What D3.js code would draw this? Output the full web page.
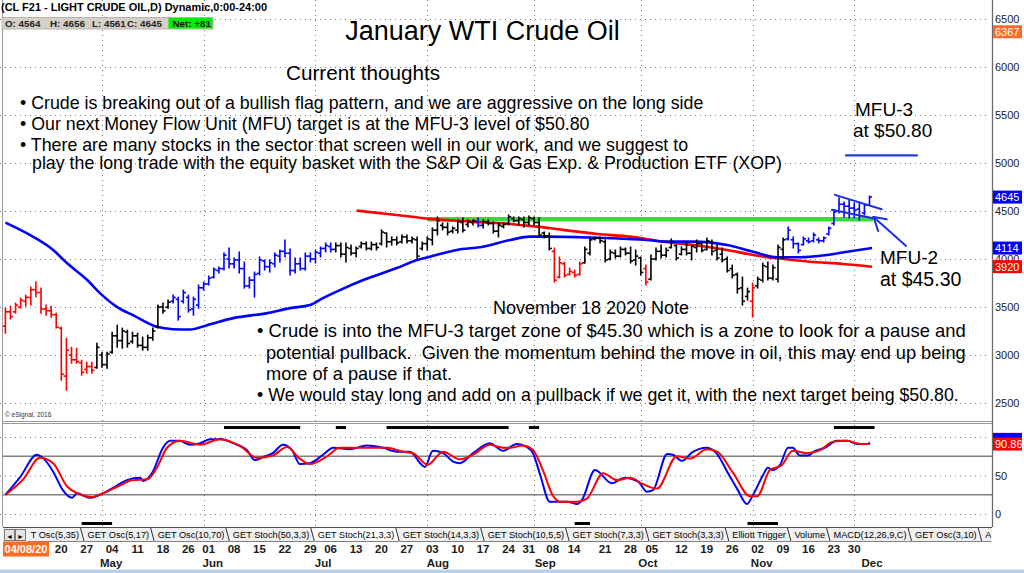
<!DOCTYPE html>
<html><head><meta charset="utf-8">
<script src="https://cdn.jsdelivr.net/npm/d3@7/dist/d3.min.js"></script>
<style>
html,body{margin:0;padding:0;background:#fff;overflow:hidden}
svg{display:block;font-family:"Liberation Sans",Arial,Helvetica,sans-serif}
</style></head><body>
<svg id="chart" width="1024" height="573"></svg>
<script>
// ---------------- DATA ----------------
const priceTicks = [2500,3000,3500,4000,4500,5000,5500,6000,6500];
const oscTicks = [0,50,100];
// daily OHLC, Jan 2021 WTI (CL F21), 03 Apr 2020 .. 04 Dec 2020 (index 0..170)
const hi = [3488,3509,3541,3593,3624,3708,3760,3697,3520,3509,
3436,3290,3175,3081,3071,2946,2925,2925,3123,3029,
3029,3238,3311,3280,3259,3238,3227,3186,3207,3280,
3520,3541,3572,3624,3603,3676,3624,3603,3729,3760,
3823,3906,3916,4063,4115,4010,4073,3969,3812,3864,
4021,3990,3990,4063,4094,4198,4104,4010,4010,4063,
4063,4094,4125,4167,4167,4167,4167,4167,4146,4125,
4177,4177,4177,4167,4303,4271,4230,4230,4251,4251,
4230,4230,4177,4230,4324,4438,4376,4376,4334,4407,
4428,4407,4407,4428,4407,4407,4386,4376,4376,4459,
4438,4438,4438,4449,4438,4428,4282,4271,4115,4021,
3969,3906,3885,3969,4125,4230,4230,4230,4198,4094,
4094,4125,4115,4125,4094,4021,3937,4042,4115,4146,
4115,4209,4146,4125,4177,4146,4198,4177,4219,4198,
4146,4115,4021,3937,3854,3812,3697,3749,3812,3958,
3969,3937,4146,4219,4334,4230,4167,4230,4219,4271,
4219,4230,4334,4512,4637,4595,4616,4585,4585,4566,
4656];
const lo = [3227,3374,3436,3488,3509,3520,3603,3436,3415,3394,
3280,2737,2632,2914,2914,2789,2810,2810,2862,2873,
2862,3019,3081,3071,3081,3123,3081,3050,3050,3154,
3280,3436,3488,3541,3363,3541,3447,3415,3488,3676,
3729,3802,3854,3885,3906,3906,3854,3697,3697,3603,
3833,3885,3864,3916,3969,4021,3833,3854,3885,3885,
3969,3958,4021,4073,4073,4073,4021,3969,4042,4021,
4115,4094,4094,4094,4146,4125,4146,4146,4167,4167,
4167,3990,4094,4094,4146,4251,4303,4251,4271,4271,
4282,4334,4355,4334,4324,4355,4271,4230,4324,4355,
4386,4355,4334,4355,4355,4230,4219,4094,3760,3802,
3812,3833,3812,3833,3958,4042,4198,4167,3969,3990,
4010,4021,4042,3958,3937,3833,3729,3781,3990,4010,
4021,4115,3990,4042,4042,3990,4073,4073,4094,4042,
3990,3969,3864,3802,3645,3520,3572,3394,3697,3760,
3781,3781,3760,4010,4198,4115,4063,4146,4167,4177,
4167,4177,4251,4355,4480,4438,4428,4428,4407,4459,
4561];
const op = [3300,3450,3450,3500,3560,3600,3680,3650,3480,3460,
3420,3280,2780,3000,2950,2920,2850,2880,2870,3000,
2900,3030,3200,3150,3240,3140,3200,3100,3080,3180,
3290,3500,3500,3560,3580,3560,3600,3480,3520,3700,
3740,3810,3880,3900,4000,3950,3990,3900,3720,3780,
3850,3980,3920,3950,4030,4080,4060,3880,3950,3900,
4030,4000,4060,4110,4130,4100,4140,4050,4110,4060,
4130,4160,4110,4150,4160,4270,4180,4200,4180,4230,
4190,4200,4110,4160,4200,4300,4350,4330,4290,4300,
4380,4360,4380,4390,4350,4380,4370,4290,4340,4370,
4420,4400,4410,4380,4420,4380,4270,4240,4080,3810,
3950,3840,3860,3840,3960,4060,4210,4220,4180,4000,
4060,4030,4100,4060,3990,4010,3900,3790,4000,4080,
4040,4120,4140,4050,4100,4060,4120,4160,4100,4180,
4090,4050,4000,3900,3840,3700,3610,3560,3720,3780,
3920,3800,3790,4100,4210,4200,4160,4150,4190,4190,
4200,4190,4260,4370,4500,4570,4550,4530,4520,4480,
4564];
const cl = [3450,3400,3520,3570,3600,3680,3650,3480,3460,3420,
3290,2800,3050,2950,2930,2820,2880,2840,3080,2900,
3010,3200,3150,3250,3120,3200,3100,3080,3180,3250,
3500,3460,3550,3600,3400,3650,3470,3580,3700,3740,
3800,3890,3900,4040,3950,3990,3900,3720,3780,3840,
3990,3920,3960,4040,4080,4060,3880,3950,3900,4030,
4000,4070,4110,4140,4100,4140,4050,4120,4060,4110,
4160,4110,4150,4120,4280,4180,4200,4170,4230,4190,
4210,4030,4160,4210,4300,4400,4330,4280,4320,4390,
4300,4390,4400,4350,4390,4370,4290,4350,4360,4440,
4400,4420,4380,4430,4380,4250,4240,4110,3780,3960,
3830,3870,3830,3950,4100,4200,4220,4190,3990,4070,
4030,4100,4060,3980,4030,3860,3760,4000,4080,4040,
4090,4180,4010,4100,4060,4130,4160,4090,4190,4080,
4010,3990,3880,3830,3690,3560,3660,3700,3790,3930,
3800,3910,4120,4200,4300,4160,4090,4210,4180,4250,
4190,4220,4320,4490,4570,4550,4530,4510,4450,4564,
4645];
// bar colouring runs [from, to, state]
const trendRuns = [[0,17,"down"],[18,32,"flat"],[33,64,"up"],[65,92,"flat"],[93,93,"up"],[94,107,"flat"],
  [108,113,"down"],[114,125,"flat"],[126,126,"down"],[127,146,"flat"],[147,147,"down"],[148,153,"flat"],[154,170,"up"]];
// moving averages [barIndex, price]
const blueMA = [[0,4379],[5.4,4233],[9.4,4094],[12.1,3958],[16.1,3781],[18.6,3645],[22,3499],[25.1,3415],[29.8,3293],
  [33,3269],[36.3,3266],[39.7,3311],[44.8,3384],[51.5,3436],[56,3488],[59.9,3520],[62.5,3593],[65.8,3676],[70.4,3781],
  [77,3906],[81,3990],[83.5,4024],[88.8,4094],[93.9,4128],[99.3,4198],[103.2,4233],[106.5,4233],[113,4227],[119.5,4216],
  [126.2,4198],[130.2,4181],[135.3,4181],[142,4146],[147.1,4076],[151.8,4018],[156.3,4018],[161.6,4042],[165.6,4076],[170.5,4114]];
const redMA = [[69.1,4504],[77,4459],[83.5,4418],[91.4,4389],[99.3,4365],[104.6,4337],[109.7,4303],[116.4,4261],[122.9,4233],
  [129.4,4181],[135.3,4146],[142,4094],[147.1,4042],[151.8,4007],[158.3,3972],[164.8,3948],[170.5,3920]];
// stochastic %K (blue) and %D (red) [barIndex, value]
const stochK = [[0,25],[2.9,48],[6.2,77],[7.2,74],[9.4,55],[11.3,31],[13.1,21],[14.1,27],[16.6,21],[18.6,25],[21.2,34],[23.9,44],
  [26.5,47],[27.1,43],[29,55],[31,86],[32.4,95],[34.3,95],[36.3,90],[38.3,92],[40.3,97],[42.6,97],[44.8,92],[47.5,83],[49.1,70],
  [50.7,74],[52.6,79],[54.6,90],[56.4,83],[57.9,65],[59.9,66],[62.5,77],[64.5,86],[67.8,84],[71.1,89],[74.3,86],[77,81],[79.6,81],
  [81.6,66],[82.5,61],[84.1,82],[86.1,79],[88.1,68],[89.4,66],[92,79],[95.3,92],[97.9,82],[100.6,91],[102.6,87],[103.8,79],
  [105.2,51],[107.1,16],[110.5,16],[112.5,13],[113.4,18],[116,57],[119.3,40],[121.9,47],[124.5,42],[126.2,29],[127.4,31],
  [130.2,78],[131.3,77],[133.1,69],[135.1,80],[138,86],[140,78],[142,55],[144.1,31],[145.9,13],[147.1,25],[149.1,51],[150,60],
  [151,57],[152.4,64],[154,86],[154.9,86],[156.3,76],[157.9,76],[159.3,82],[161.2,86],[163.6,95],[165.6,95],[167.6,91],[169.6,91],[170.1,93]];
const stochD = [[0,25],[3.5,45],[6.8,73],[9.4,66],[12.1,36],[14.1,27],[17.2,22],[19.2,27],[22.5,37],[25.1,44],[27.9,45],[29.8,60],
  [31.8,86],[34.3,95],[38.3,90],[42.2,97],[46.2,88],[49.5,73],[52.6,76],[55.4,87],[57.9,72],[59.9,65],[63.3,75],[65.8,86],[71.1,86],
  [75.1,86],[78.2,81],[80.2,79],[83.1,64],[86.1,81],[89.4,71],[92,77],[95.3,90],[97.9,86],[99.3,86],[101.8,89],[103.8,83],[105.8,56],
  [107.7,24],[109.1,16],[112.5,16],[114.4,20],[117.6,53],[120.3,44],[122.9,47],[125.4,39],[128.2,33],[132.1,75],[134.7,72],[138,84],
  [140,81],[143.2,53],[146.5,23],[147.9,23],[150.4,57],[152.8,64],[154.9,82],[157.7,79],[160.3,83],[162.8,94],[165.6,95],[168.1,91],[170.1,90.86]];
const obZones = [[43,58],[65,67],[75,99],[103,105],[163,171]];
const osZones = [[15,21],[112,115],[146,152]];
const mfu2Level = [4415, 83.1, 170.7];   // value, from index, to index
const mfu3Level = [5080, 165.2, 179.5];
const flagLines = [[[163.2,4668],[172.4,4519]],[[162.6,4512],[170.7,4425]],
  [[177.2,4136],[170.8,4438]],[[170.8,4438],[173.4,4414]],[[170.8,4438],[171.7,4292]]];
const monthStarts = [19,39,61,83,104,125,147,167];
const dayTicks = [["20",10],["27",15],["04",20],["11",25],["18",30],["26",35],["01",39],["08",44],["15",49],["22",54],["29",59],
  ["06",63],["13",68],["20",73],["27",78],["03",83],["10",88],["17",93],["24",98],["31",102],["08",106.7],["14",110.9],["21",117],
  ["28",122],["05",126.2],["12",132],["19",137],["26",142],["02",147],["09",152],["16",157],["23",162],["30",166]];
const monthTicks = [["May",20.8],["Jun",40.8],["Jul",62.5],["Aug",85.1],["Sep",106.2],["Oct",126.4],["Nov",148.8],["Dec",170.5]];
const extraBadge = 6367;
const tabLabels = ["T Osc(5,35)","GET Osc(5,17)","GET Osc(10,70)","GET Stoch(50,3,3)","GET Stoch(21,3,3)","GET Stoch(14,3,3)",
  "GET Stoch(10,5,5)","GET Stoch(7,3,3)","GET Stoch(3,3,3)","Elliott Trigger","Volume","MACD(12,26,9,C)","GET Osc(3,10)","Acc"];
const activeTab = "GET Stoch(21,3,3)";

// ---------------- SCALES ----------------
const svg = d3.select("#chart");
const AX = 992;
const x = d3.scaleLinear().domain([0,170]).range([5.4,869.5]);
const y = d3.scaleLinear().domain([2500,6500]).range([403,19]);
const yo = d3.scaleLinear().domain([0,100]).range([514,437]);
const n = hi.length;
const colorOf = {down:"#ff0000", flat:"#000000", up:"#0000ff"};
const barColor = new Array(n);
trendRuns.forEach(([a,b,s])=>{ for(let i=a;i<=b;i++) barColor[i]=colorOf[s]; });

const defs = svg.append("defs");
defs.append("clipPath").attr("id","cp").append("rect").attr("x",3).attr("y",0).attr("width",AX-3).attr("height",421);
defs.append("clipPath").attr("id","co").append("rect").attr("x",3).attr("y",424).attr("width",AX-3).attr("height",102);

// ---------------- GRID ----------------
const dot = "1,4";
const gPriceAxis = svg.append("g").attr("transform",`translate(${AX},0)`)
  .call(d3.axisRight(y).tickValues(priceTicks).tickSize(-(AX-5)).tickPadding(3).tickFormat(d3.format("d")));
gPriceAxis.select(".domain").remove();
gPriceAxis.selectAll("line").attr("stroke","#7a7a7a").attr("stroke-dasharray",dot).attr("transform","translate(-6,0)");
gPriceAxis.selectAll("text").attr("font-size",11).attr("fill","#1a1a1a").attr("font-family","Liberation Sans, Arial, sans-serif");

const gOscAxis = svg.append("g").attr("transform",`translate(${AX},0)`)
  .call(d3.axisRight(yo).tickValues(oscTicks).tickSize(-(AX-5)).tickPadding(3).tickFormat(d3.format("d")));
gOscAxis.select(".domain").remove();
gOscAxis.selectAll("line").attr("stroke","#7a7a7a").attr("stroke-dasharray",dot).attr("transform","translate(-6,0)");
gOscAxis.selectAll("text").attr("font-size",11).attr("fill","#1a1a1a").attr("font-family","Liberation Sans, Arial, sans-serif");

const vg = svg.append("g").attr("stroke","#7a7a7a").attr("stroke-dasharray","1,4");
monthStarts.forEach(i=>{
  const xx = Math.round(x(i))+0.5;
  vg.append("line").attr("x1",xx).attr("x2",xx).attr("y1",0).attr("y2",421);
  vg.append("line").attr("x1",xx).attr("x2",xx).attr("y1",425).attr("y2",526);
});
// oscillator solid reference lines
[25,75].forEach(v=> svg.append("line").attr("x1",3).attr("x2",AX).attr("y1",yo(v)).attr("y2",yo(v))
  .attr("stroke","#808080").attr("stroke-width",1.5));

// panel frames
svg.append("line").attr("x1",2.5).attr("x2",2.5).attr("y1",0).attr("y2",527).attr("stroke","#9a9a9a");
svg.append("line").attr("x1",3).attr("x2",AX).attr("y1",421.5).attr("y2",421.5).attr("stroke","#9a9a9a");
svg.append("line").attr("x1",3).attr("x2",AX).attr("y1",423.5).attr("y2",423.5).attr("stroke","#9a9a9a");
svg.append("line").attr("x1",AX+0.5).attr("x2",AX+0.5).attr("y1",0).attr("y2",527).attr("stroke","#6a6a6a").attr("stroke-width",1.3);

// ---------------- PRICE PANEL ----------------
const pg = svg.append("g").attr("clip-path","url(#cp)");
pg.append("line").attr("x1",x(mfu2Level[1])).attr("x2",x(mfu2Level[2])).attr("y1",y(mfu2Level[0])).attr("y2",y(mfu2Level[0]))
  .attr("stroke","#3fd63f").attr("stroke-width",4.5);
const maLine = d3.line().x(d=>x(d[0])).y(d=>y(d[1])).curve(d3.curveMonotoneX);
pg.append("path").attr("d",maLine(redMA)).attr("fill","none").attr("stroke","#ff0000").attr("stroke-width",2.6);
pg.append("path").attr("d",maLine(blueMA)).attr("fill","none").attr("stroke","#0000ff").attr("stroke-width",2.6);

const bars = pg.selectAll("g.bar").data(d3.range(n)).join("g").attr("class","bar")
  .attr("stroke",i=>barColor[i]).attr("stroke-width",1.6);
bars.append("line").attr("x1",i=>x(i)).attr("x2",i=>x(i)).attr("y1",i=>y(hi[i])-0.5).attr("y2",i=>y(lo[i])+0.5);
bars.append("line").attr("x1",i=>x(i)-2.6).attr("x2",i=>x(i)).attr("y1",i=>y(op[i])).attr("y2",i=>y(op[i]));
bars.append("line").attr("x1",i=>x(i)).attr("x2",i=>x(i)+2.6).attr("y1",i=>y(cl[i])).attr("y2",i=>y(cl[i]));

// annotations
pg.append("line").attr("x1",x(mfu3Level[1])).attr("x2",x(mfu3Level[2])).attr("y1",y(mfu3Level[0])).attr("y2",y(mfu3Level[0]))
  .attr("stroke","#1f3fd8").attr("stroke-width",2.2);
flagLines.forEach(s=> pg.append("line").attr("x1",x(s[0][0])).attr("y1",y(s[0][1])).attr("x2",x(s[1][0])).attr("y2",y(s[1][1]))
  .attr("stroke","#1a2ee6").attr("stroke-width",2).attr("stroke-linecap","round"));

// texts
const T = (txt,xx,yy,size,opts={})=>{
  const t = svg.append("text").attr("x",xx).attr("y",yy).attr("font-size",size).attr("fill",opts.fill||"#000").text(txt);
  if(opts.anchor) t.attr("text-anchor",opts.anchor);
  if(opts.weight) t.attr("font-weight",opts.weight);
  if(opts.len) t.attr("textLength",opts.len).attr("lengthAdjust","spacingAndGlyphs");
  return t;
};
T("January WTI Crude Oil",482.5,40,27,{anchor:"middle"});
T("Current thoughts",286,80,20.7);
T("\u2022 Crude is breaking out of a bullish flag pattern, and we are aggressive on the long side",20,109,17.8);
T("\u2022 Our next Money Flow Unit (MFU) target is at the MFU-3 level of $50.80",20,130,17.8);
T("\u2022 There are many stocks in the sector that screen well in our work, and we suggest to",20,151,17.8);
T("play the long trade with the equity basket with the S&P Oil & Gas Exp. & Production ETF (XOP)",32,169,17.8);
T("MFU-3",855,116,19);
T("at $50.80",853,137,19);
T("November 18 2020 Note",493,314,18);
T("\u2022 Crude is into the MFU-3 target zone of $45.30 which is a zone to look for a pause and",257,337,18.4);
T("potential pullback.\u00a0 Given the momentum behind the move in oil, this may end up being",266,359,18.2);
T("more of a pause if that.",266,380,18.2);
T("\u2022 We would stay long and add on a pullback if we get it, with the next target being $50.80.",257,401,17.8);
T("MFU-2",880,264,19);
T("at $45.30",880,286,19.5);
T("\u00a9 eSignal, 2016",5,417,6.5,{fill:"#333"});

// header
T("(CL F21 - LIGHT CRUDE OIL,D) Dynamic,0:00-24:00",1,11,11,{weight:"bold",len:266});
svg.append("rect").attr("x",2).attr("y",17.5).attr("width",211).attr("height",11.5).attr("fill","#d4d0c8").attr("stroke","#b8b4ac");
const hdr = [["O: "+op[n-1],5],["H: "+hi[n-1],50],["L: "+lo[n-1],92],["C: "+cl[n-1],127]];
hdr.forEach(([t,xx])=>T(t,xx,26.8,9.8,{weight:"bold",fill:"#222"}));
svg.append("rect").attr("x",168.5).attr("y",18).attr("width",44).attr("height",10.5).attr("fill","#00ee00");
T("Net: "+(cl[n-1]-cl[n-2]>=0?"+":"")+(cl[n-1]-cl[n-2]),172.5,26.8,9.8,{weight:"bold",fill:"#111"});

// ---------------- OSCILLATOR ----------------
const og = svg.append("g").attr("clip-path","url(#co)");
const oLine = d3.line().x(d=>x(d[0])).y(d=>yo(d[1])).curve(d3.curveMonotoneX);
og.append("path").attr("d",oLine(stochK)).attr("fill","none").attr("stroke","#0000ff").attr("stroke-width",2);
og.append("path").attr("d",oLine(stochD)).attr("fill","none").attr("stroke","#ff0000").attr("stroke-width",2);
obZones.forEach(([a,b])=> og.append("line").attr("x1",x(a)).attr("x2",x(b)).attr("y1",427.5).attr("y2",427.5).attr("stroke","#000").attr("stroke-width",3));
osZones.forEach(([a,b])=> svg.append("line").attr("x1",x(a)).attr("x2",x(b)).attr("y1",523.5).attr("y2",523.5).attr("stroke","#000").attr("stroke-width",3));

// ---------------- BADGES ----------------
const badge = (yc,txt,fill)=>{
  svg.append("rect").attr("x",AX+1).attr("y",yc-6.5).attr("width",29).attr("height",13).attr("fill",fill);
  if(txt) T(txt,AX+3,yc+4,11,{fill:"#fff"});
};
badge(y(extraBadge),String(extraBadge),"#ff6a2a");
badge(y(cl[n-1]),String(cl[n-1]),"#0000ff");
badge(y(blueMA[blueMA.length-1][1]),String(blueMA[blueMA.length-1][1]),"#0000ff");
badge(y(redMA[redMA.length-1][1]),String(redMA[redMA.length-1][1]),"#ff0000");
badge(yo(stochK[stochK.length-1][1])-3,"","#0000ff");
badge(yo(stochD[stochD.length-1][1]),stochD[stochD.length-1][1].toFixed(2),"#ff0000");

// ---------------- TAB BAR ----------------
const tabY = 527, tabH = 15;
svg.append("rect").attr("x",3).attr("y",tabY).attr("width",AX-3).attr("height",tabH).attr("fill","#f0f0f0");
svg.append("line").attr("x1",3).attr("x2",AX).attr("y1",tabY+0.5).attr("y2",tabY+0.5).attr("stroke","#505050");
[[4,"\u25C4"],[15,"\u25BA"]].forEach(([bx,ch])=>{
  svg.append("rect").attr("x",bx+0.5).attr("y",tabY+2.5).attr("width",10).attr("height",11).attr("fill","#e4e4e4").attr("stroke","#7a7a7a");
  T(ch,bx+5.5,tabY+11.5,7,{anchor:"middle",fill:"#000"});
});
const tg = svg.append("g");
svg.append("clipPath").attr("id","ct").append("rect").attr("x",27).attr("y",tabY).attr("width",AX-28).attr("height",tabH);
tg.attr("clip-path","url(#ct)");
let cx = 30.7;
tabLabels.forEach(lbl=>{
  const t = tg.append("text").attr("x",cx).attr("y",tabY+11).attr("font-size",9.2).attr("fill","#000").text(lbl);
  const w = t.node().getComputedTextLength();
  if(lbl===activeTab){
    tg.insert("polygon","text").attr("points",`${cx-5},${tabY+1} ${cx+w+2},${tabY+1} ${cx+w+5},${tabY+tabH} ${cx-2},${tabY+tabH}`).attr("fill","#fff");
  }
  tg.append("line").attr("x1",cx+w+1.5).attr("y1",tabY+1).attr("x2",cx+w+5).attr("y2",tabY+tabH-1).attr("stroke","#303030");
  tg.append("line").attr("x1",cx-3).attr("y1",tabY+tabH-0.5).attr("x2",cx+w+5).attr("y2",tabY+tabH-0.5).attr("stroke","#808080");
  cx += w + 8.5;
});

// ---------------- DATE AXIS ----------------
svg.append("rect").attr("x",3).attr("y",541.5).attr("width",46).attr("height",15).attr("fill","#ff6a21");
T("04/08/20",26,553,11,{anchor:"middle",weight:"bold",fill:"#fff"});
dayTicks.forEach(([lbl,i])=> T(lbl,x(i)+5,553,11.5,{anchor:"middle",weight:"bold",fill:"#1a1a1a"}));
monthTicks.forEach(([lbl,i])=> T(lbl,x(i),567,11.5,{anchor:"middle",weight:"bold",fill:"#1a1a1a"}));
svg.append("rect").attr("x",0).attr("y",569.5).attr("width",1024).attr("height",4).attr("fill","#b9d1ea");
</script>
</body></html>
